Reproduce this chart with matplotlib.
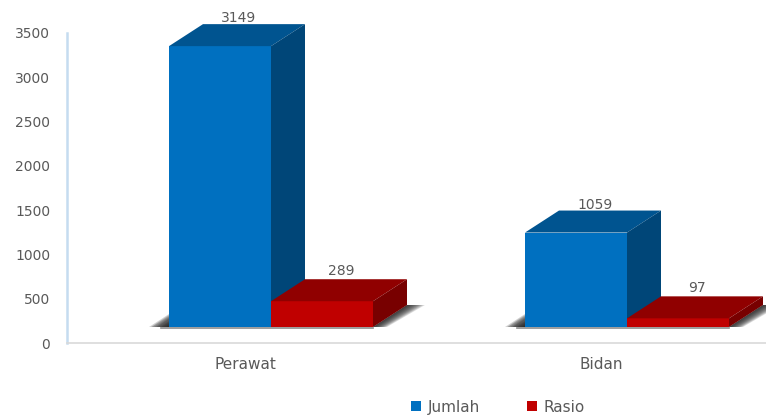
import matplotlib
matplotlib.use("Agg")
import matplotlib.pyplot as plt
from matplotlib.patches import Patch, Polygon

categories = ["Perawat", "Bidan"]
jumlah = [3149, 1059]
rasio = [289, 97]
yticks = [0, 500, 1000, 1500, 2000, 2500, 3000, 3500]

# colours: front, top, side
blue = ("#0070c0", "#005490", "#004678")
red = ("#c00000", "#900000", "#780000")
text_col = "#595959"

W, H = 766, 415
fig = plt.figure(figsize=(W / 100, H / 100), dpi=100)
ax = fig.add_axes([67 / W, (H - 343) / H, 712 / W, 310 / H])
ax.set_xlim(-0.5, 1.5)
ax.set_ylim(0, 3500)

# one pixel in data units
px = 2 / 712
py = 3500 / 310
floor = 16 * py     # bars stand on a floor above the axis
bar_w = 102 * px
depth_x = 34 * px
depth_y = 22 * py
shift = 26 * px     # bars sit right of the category centre
scale = 1.007


def box(x, val, cols, z):
    top = floor + val * scale
    x2 = x + bar_w
    ax.add_patch(Polygon([(x, floor), (x2, floor), (x2, top), (x, top)],
                         fc=cols[0], ec="none", zorder=z, clip_on=False))
    ax.add_patch(Polygon([(x, top), (x2, top), (x2 + depth_x, top + depth_y), (x + depth_x, top + depth_y)],
                         fc=cols[1], ec="none", zorder=z, clip_on=False))
    ax.add_patch(Polygon([(x2, floor), (x2 + depth_x, floor + depth_y), (x2 + depth_x, top + depth_y), (x2, top)],
                         fc=cols[2], ec="none", zorder=z, clip_on=False))
    return top + depth_y


def shadow(x_left, x_right):
    # soft shadow on the floor, left of the front and behind the right side
    for i in range(12):
        f = i / 12
        reach = 20 * (1 - f)
        ax.add_patch(Polygon([(x_left - reach * px, floor), (x_left, floor),
                              (x_left, floor + 13 * (1 - f) * py)],
                             fc="#202020", ec="none", alpha=0.2, zorder=1, clip_on=False))
        ax.add_patch(Polygon([(x_right, floor), (x_right + depth_x, floor + depth_y),
                              (x_right + depth_x + 18 * (1 - f) * px, floor + depth_y),
                              (x_right + 14 * (1 - f) * px, floor)],
                             fc="#202020", ec="none", alpha=0.14, zorder=1, clip_on=False))
    ax.plot([x_left - 8 * px, x_right], [floor - 0.5 * py] * 2, color="#8c8c8c", lw=1.2, zorder=1)


for i, cat in enumerate(categories):
    x1 = i + shift - bar_w
    x2 = i + shift
    shadow(x1, x2 + bar_w)
    back1 = box(x1, jumlah[i], blue, 3)
    back2 = box(x2, rasio[i], red, 4)
    ax.text(x1 + (bar_w + depth_x) / 2 + 2 * px, back1 + 6 * py, str(jumlah[i]), ha="center", va="center",
            fontsize=10, color=text_col, zorder=6)
    ax.text(x2 + (bar_w + depth_x) / 2 + 2 * px, back2 + 8 * py, str(rasio[i]), ha="center", va="center",
            fontsize=10, color=text_col, zorder=6)

ax.set_xticks(range(len(categories)), categories, fontsize=11, color=text_col)
ax.set_yticks(yticks, [str(v) for v in yticks], fontsize=10, color=text_col)
ax.tick_params(axis="both", length=0)
ax.tick_params(axis="y", pad=12)
ax.tick_params(axis="x", pad=10)

for s in ["top", "right"]:
    ax.spines[s].set_visible(False)
ax.spines["left"].set_color("#c5dcf0")
ax.spines["left"].set_linewidth(1.8)
ax.spines["bottom"].set_color("#d9d9d9")
ax.spines["bottom"].set_linewidth(1.2)

handles = [Patch(fc=blue[0], label="Jumlah"), Patch(fc=red[0], label="Rasio")]
fig.legend(handles=handles, loc="center", bbox_to_anchor=(498 / W, (H - 407) / H), ncol=2, frameon=False,
           fontsize=11, labelcolor=text_col, handlelength=0.65, handleheight=0.65, handletextpad=0.45,
           columnspacing=3.1, borderpad=0)

fig.savefig("out.png", dpi=100)
